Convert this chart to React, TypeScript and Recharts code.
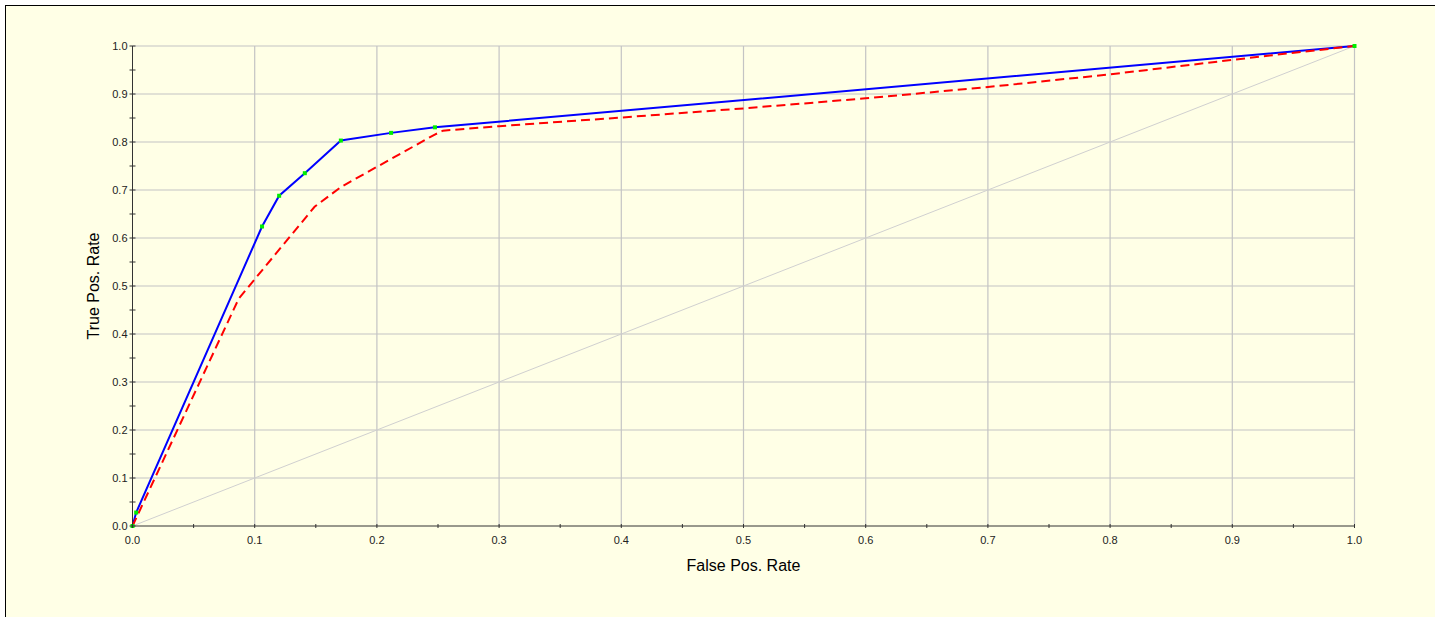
import React from 'react';
import { LineChart, Line, XAxis, YAxis, CartesianGrid } from 'recharts';

// Classifier ROC curve (solid blue with green threshold markers)
const bluePoints = [
  { x: 0, y: 0 },
  { x: 0.003, y: 0.028 },
  { x: 0.106, y: 0.624 },
  { x: 0.12, y: 0.688 },
  { x: 0.141, y: 0.735 },
  { x: 0.1705, y: 0.803 },
  { x: 0.2116, y: 0.819 },
  { x: 0.2475, y: 0.8306 },
  { x: 1, y: 1 },
];

// Second ROC curve (dashed red)
const redPoints = [
  { x: 0, y: 0 },
  { x: 0.087, y: 0.474 },
  { x: 0.149, y: 0.665 },
  { x: 0.171, y: 0.707 },
  { x: 0.247, y: 0.815 },
  { x: 0.254, y: 0.8236 },
  { x: 0.3, y: 0.833 },
  { x: 0.4, y: 0.851 },
  { x: 0.5, y: 0.87 },
  { x: 0.6, y: 0.891 },
  { x: 0.7, y: 0.9145 },
  { x: 0.8, y: 0.941 },
  { x: 0.9, y: 0.971 },
  { x: 0.947, y: 0.985 },
  { x: 1, y: 1 },
];

// Random-classifier diagonal
const diagonalPoints = [
  { x: 0, y: 0 },
  { x: 1, y: 1 },
];

const axisTicks = [
  0, 0.05, 0.1, 0.15, 0.2, 0.25, 0.3, 0.35, 0.4, 0.45, 0.5,
  0.55, 0.6, 0.65, 0.7, 0.75, 0.8, 0.85, 0.9, 0.95, 1.0,
];
const gridValues = [0.1, 0.2, 0.3, 0.4, 0.5, 0.6, 0.7, 0.8, 0.9, 1.0];

const xLabel = 'False Pos. Rate';
const yLabel = 'True Pos. Rate';

const FONT = '"Liberation Sans", Arial, sans-serif';
const BG = '#FFFFE6';

const isMajor = (v: number) => Math.round(v * 100) % 10 === 0;

const YTick = (props: any) => {
  const { x, y, payload } = props;
  const v = payload.value as number;
  return (
    <g>
      <line x1={x - 3} x2={x + 3} y1={y} y2={y} stroke="#333" strokeWidth={1} />
      {isMajor(v) && (
        <text
          x={x - 5}
          y={y}
          textAnchor="end"
          dominantBaseline="central"
          fontSize={11}
          fontFamily={FONT}
          fill="#222"
        >
          {v.toFixed(1)}
        </text>
      )}
    </g>
  );
};

const XTick = (props: any) => {
  const { x, y, payload } = props;
  const v = payload.value as number;
  return (
    <g>
      <line x1={x} x2={x} y1={y - 2} y2={y + 2} stroke="#333" strokeWidth={1} />
      {isMajor(v) && (
        <text
          x={x}
          y={y + 14}
          textAnchor="middle"
          dominantBaseline="central"
          fontSize={11}
          fontFamily={FONT}
          fill="#222"
        >
          {v.toFixed(1)}
        </text>
      )}
    </g>
  );
};

const GreenSquare = (props: any) => {
  const { cx, cy, index } = props;
  if (cx == null || cy == null) return <g key={`g-${index}`} />;
  return <rect key={`g-${index}`} x={cx - 2} y={cy - 2} width={4} height={4} fill="#00EE00" />;
};

export default function App() {
  return (
    <div
      style={{
        position: 'absolute',
        left: 0,
        top: 0,
        width: 1435,
        height: 617,
        overflow: 'hidden',
        background: '#FFFFFF',
      }}
    >
      <div
        style={{
          position: 'absolute',
          left: 5,
          top: 5,
          width: 1450,
          height: 630,
          border: '1px solid #000',
          background: BG,
        }}
      />
      <div style={{ position: 'absolute', left: 0, top: 0 }}>
        <LineChart
          width={1435}
          height={617}
          margin={{ top: 46, right: 80.5, bottom: 61, left: 72.5 }}
        >
          <CartesianGrid
            horizontalValues={gridValues}
            verticalValues={gridValues}
            stroke="#C4C4C4"
            strokeWidth={1.2}
          />
          <XAxis
            type="number"
            dataKey="x"
            domain={[0, 1]}
            ticks={axisTicks}
            interval={0}
            tickSize={0}
            tickMargin={0}
            tickLine={false}
            tick={<XTick />}
            axisLine={{ stroke: '#333', strokeWidth: 1 }}
            height={30}
            allowDuplicatedCategory={false}
            label={{
              content: (p: any) => {
                const vb = p.viewBox;
                return (
                  <text
                    x={vb.x + vb.width / 2}
                    y={vb.y + 39}
                    textAnchor="middle"
                    dominantBaseline="central"
                    fontSize={16}
                    fontFamily={FONT}
                    fill="#000"
                  >
                    {xLabel}
                  </text>
                );
              },
            }}
          />
          <YAxis
            type="number"
            dataKey="y"
            domain={[0, 1]}
            ticks={axisTicks}
            interval={0}
            tickSize={0}
            tickMargin={0}
            tickLine={false}
            tick={<YTick />}
            axisLine={{ stroke: '#333', strokeWidth: 1 }}
            width={60}
            label={{
              content: (p: any) => {
                const vb = p.viewBox;
                const cx = vb.x + 20.5;
                const cy = vb.y + vb.height / 2;
                return (
                  <text
                    x={cx}
                    y={cy}
                    transform={`rotate(-90 ${cx} ${cy})`}
                    textAnchor="middle"
                    dominantBaseline="central"
                    fontSize={16}
                    fontFamily={FONT}
                    fill="#000"
                  >
                    {yLabel}
                  </text>
                );
              },
            }}
          />
          <Line
            data={diagonalPoints}
            dataKey="y"
            type="linear"
            stroke="#D0D0D0"
            strokeWidth={1}
            dot={false}
            activeDot={false}
            isAnimationActive={false}
          />
          <Line
            data={bluePoints}
            dataKey="y"
            type="linear"
            stroke="#0000FF"
            strokeWidth={2}
            dot={false}
            activeDot={false}
            isAnimationActive={false}
          />
          <Line
            data={redPoints}
            dataKey="y"
            type="linear"
            stroke="#FF0000"
            strokeWidth={2}
            strokeDasharray="9 5"
            dot={false}
            activeDot={false}
            isAnimationActive={false}
          />
          <Line
            data={bluePoints}
            dataKey="y"
            type="linear"
            stroke="none"
            dot={<GreenSquare />}
            activeDot={false}
            isAnimationActive={false}
          />
        </LineChart>
      </div>
    </div>
  );
}
